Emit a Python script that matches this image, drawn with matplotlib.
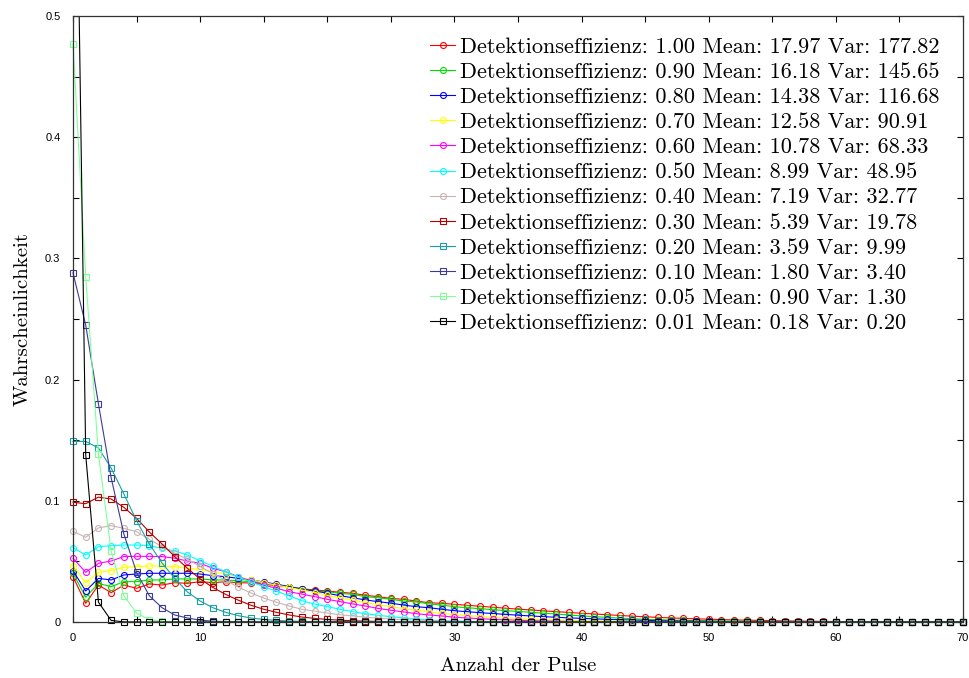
import matplotlib
matplotlib.use('Agg')
import matplotlib.pyplot as plt
from matplotlib.ticker import MultipleLocator
from matplotlib.transforms import Bbox, TransformedBbox

# Anzahl der Pulse 0..70
pulses = list(range(71))

effs = ['1.00', '0.90', '0.80', '0.70', '0.60', '0.50', '0.40', '0.30', '0.20', '0.10', '0.05', '0.01']
means = ['17.97', '16.18', '14.38', '12.58', '10.78', '8.99', '7.19', '5.39', '3.59', '1.80', '0.90', '0.18']
variances = ['177.82', '145.65', '116.68', '90.91', '68.33', '48.95', '32.77', '19.78', '9.99', '3.40', '1.30', '0.20']

p100 = [0.0374, 0.0154, 0.0305, 0.0242, 0.0305, 0.0278, 0.0314, 0.0305, 0.0324, 0.0319,
        0.0333, 0.0324, 0.0333, 0.0324, 0.0322, 0.0312, 0.0300, 0.0290, 0.0275, 0.0264,
        0.0256, 0.0245, 0.0237, 0.0220, 0.0209, 0.0195, 0.0187, 0.0173, 0.0159, 0.0154,
        0.0146, 0.0138, 0.0130, 0.0122, 0.0114, 0.0106, 0.0099, 0.0092, 0.0085, 0.0079,
        0.0072, 0.0066, 0.0060, 0.0054, 0.0048, 0.0043, 0.0038, 0.0034, 0.0030, 0.0026,
        0.0023, 0.0020, 0.0017, 0.0015, 0.0013, 0.0011, 0.0009, 0.0008, 0.0006, 0.0005,
        0.0004, 0.0003, 0.0003, 0.0002, 0.0002, 0.0001, 0.0001, 0.0001, 0.0001, 0, 0]
p090 = [0.0402, 0.0204, 0.0319, 0.0291, 0.0333, 0.0333, 0.0347, 0.0347, 0.0355, 0.0355,
        0.0355, 0.0347, 0.0347, 0.0340, 0.0333, 0.0320, 0.0308, 0.0292, 0.0275, 0.0256,
        0.0250, 0.0237, 0.0228, 0.0209, 0.0200, 0.0187, 0.0173, 0.0165, 0.0149, 0.0140,
        0.0126, 0.0118, 0.0110, 0.0102, 0.0094, 0.0087, 0.0080, 0.0073, 0.0066, 0.0058,
        0.0050, 0.0044, 0.0038, 0.0032, 0.0027, 0.0022, 0.0019, 0.0016, 0.0014, 0.0012,
        0.0010, 0.0008, 0.0007, 0.0006, 0.0005, 0.0004, 0.0003, 0.0003, 0.0002, 0.0002,
        0.0001, 0.0001, 0.0001, 0, 0, 0, 0, 0, 0, 0, 0]
p080 = [0.0424, 0.0256, 0.0360, 0.0347, 0.0388, 0.0396, 0.0402, 0.0402, 0.0402, 0.0402,
        0.0396, 0.0382, 0.0374, 0.0360, 0.0347, 0.0330, 0.0312, 0.0292, 0.0270, 0.0256,
        0.0237, 0.0217, 0.0200, 0.0182, 0.0168, 0.0155, 0.0140, 0.0126, 0.0118, 0.0105,
        0.0093, 0.0085, 0.0077, 0.0070, 0.0063, 0.0056, 0.0050, 0.0044, 0.0039, 0.0034,
        0.0030, 0.0026, 0.0022, 0.0019, 0.0016, 0.0013, 0.0011, 0.0009, 0.0008, 0.0006,
        0.0005, 0.0004, 0.0003, 0.0003, 0.0002, 0.0002, 0.0001, 0.0001, 0, 0,
        0, 0, 0, 0, 0, 0, 0, 0, 0, 0, 0]
p070 = [0.0465, 0.0325, 0.0410, 0.0424, 0.0451, 0.0456, 0.0462, 0.0462, 0.0456, 0.0443,
        0.0435, 0.0415, 0.0396, 0.0374, 0.0350, 0.0325, 0.0305, 0.0285, 0.0264, 0.0242,
        0.0220, 0.0200, 0.0182, 0.0159, 0.0143, 0.0126, 0.0110, 0.0097, 0.0083, 0.0072,
        0.0060, 0.0052, 0.0045, 0.0039, 0.0033, 0.0028, 0.0024, 0.0020, 0.0017, 0.0014,
        0.0012, 0.0010, 0.0008, 0.0007, 0.0005, 0.0004, 0.0003, 0.0003, 0.0002, 0.0002,
        0.0001, 0.0001, 0, 0, 0, 0, 0, 0, 0, 0,
        0, 0, 0, 0, 0, 0, 0, 0, 0, 0, 0]
p060 = [0.0526, 0.0410, 0.0484, 0.0503, 0.0540, 0.0542, 0.0542, 0.0540, 0.0526, 0.0503,
        0.0484, 0.0443, 0.0415, 0.0374, 0.0338, 0.0305, 0.0278, 0.0250, 0.0230, 0.0209,
        0.0187, 0.0168, 0.0149, 0.0132, 0.0112, 0.0097, 0.0083, 0.0069, 0.0058, 0.0050,
        0.0040, 0.0033, 0.0027, 0.0022, 0.0018, 0.0014, 0.0011, 0.0009, 0.0007, 0.0005,
        0.0004, 0.0003, 0.0002, 0.0002, 0.0001, 0.0001, 0, 0, 0, 0,
        0, 0, 0, 0, 0, 0, 0, 0, 0, 0,
        0, 0, 0, 0, 0, 0, 0, 0, 0, 0, 0]
p050 = [0.0613, 0.0553, 0.0621, 0.0630, 0.0635, 0.0635, 0.0630, 0.0608, 0.0586, 0.0553,
        0.0505, 0.0460, 0.0415, 0.0370, 0.0330, 0.0292, 0.0255, 0.0215, 0.0176, 0.0148,
        0.0127, 0.0105, 0.0085, 0.0069, 0.0055, 0.0044, 0.0033, 0.0025, 0.0017, 0.0011,
        0.0008, 0.0006, 0.0004, 0.0003, 0.0002, 0.0001, 0.0001, 0, 0, 0,
        0, 0, 0, 0, 0, 0, 0, 0, 0, 0,
        0, 0, 0, 0, 0, 0, 0, 0, 0, 0,
        0, 0, 0, 0, 0, 0, 0, 0, 0, 0, 0]
p040 = [0.0748, 0.0699, 0.0776, 0.0795, 0.0773, 0.0745, 0.0682, 0.0621, 0.0569, 0.0517,
        0.0459, 0.0399, 0.0343, 0.0288, 0.0239, 0.0198, 0.0163, 0.0132, 0.0105, 0.0090,
        0.0074, 0.0060, 0.0050, 0.0040, 0.0031, 0.0025, 0.0020, 0.0015, 0.0011, 0.0008,
        0.0006, 0.0004, 0.0003, 0.0002, 0.0001, 0, 0, 0, 0, 0,
        0, 0, 0, 0, 0, 0, 0, 0, 0, 0,
        0, 0, 0, 0, 0, 0, 0, 0, 0, 0,
        0, 0, 0, 0, 0, 0, 0, 0, 0, 0, 0]
p030 = [0.0988, 0.0976, 0.1030, 0.1015, 0.0946, 0.0855, 0.0743, 0.0644, 0.0540, 0.0443,
        0.0355, 0.0285, 0.0228, 0.0180, 0.0138, 0.0105, 0.0080, 0.0058, 0.0041, 0.0030,
        0.0021, 0.0015, 0.0010, 0.0007, 0.0005, 0.0003, 0.0002, 0.0001, 0, 0,
        0, 0, 0, 0, 0, 0, 0, 0, 0, 0,
        0, 0, 0, 0, 0, 0, 0, 0, 0, 0,
        0, 0, 0, 0, 0, 0, 0, 0, 0, 0,
        0, 0, 0, 0, 0, 0, 0, 0, 0, 0, 0]
p020 = [0.1490, 0.1490, 0.1436, 0.1270, 0.1056, 0.0836, 0.0644, 0.0487, 0.0360, 0.0248,
        0.0173, 0.0118, 0.0080, 0.0052, 0.0033, 0.0021, 0.0013, 0.0008, 0.0005, 0.0003,
        0.0002, 0.0001, 0, 0, 0, 0, 0, 0, 0, 0,
        0, 0, 0, 0, 0, 0, 0, 0, 0, 0,
        0, 0, 0, 0, 0, 0, 0, 0, 0, 0,
        0, 0, 0, 0, 0, 0, 0, 0, 0, 0,
        0, 0, 0, 0, 0, 0, 0, 0, 0, 0, 0]
p010 = [0.2880, 0.2450, 0.1800, 0.1190, 0.0726, 0.0410, 0.0217, 0.0118, 0.0058, 0.0033,
        0.0015, 0.0007, 0.0003, 0.0002, 0.0001, 0, 0, 0, 0, 0,
        0, 0, 0, 0, 0, 0, 0, 0, 0, 0,
        0, 0, 0, 0, 0, 0, 0, 0, 0, 0,
        0, 0, 0, 0, 0, 0, 0, 0, 0, 0,
        0, 0, 0, 0, 0, 0, 0, 0, 0, 0,
        0, 0, 0, 0, 0, 0, 0, 0, 0, 0, 0]
p005 = [0.4770, 0.2850, 0.1385, 0.0586, 0.0217, 0.0073, 0.0020, 0.0006, 0.0002, 0.0001,
        0, 0, 0, 0, 0, 0, 0, 0, 0, 0,
        0, 0, 0, 0, 0, 0, 0, 0, 0, 0,
        0, 0, 0, 0, 0, 0, 0, 0, 0, 0,
        0, 0, 0, 0, 0, 0, 0, 0, 0, 0,
        0, 0, 0, 0, 0, 0, 0, 0, 0, 0,
        0, 0, 0, 0, 0, 0, 0, 0, 0, 0, 0]
p001 = [0.8440, 0.1380, 0.0164, 0.0013, 0.0001, 0, 0, 0, 0, 0,
        0, 0, 0, 0, 0, 0, 0, 0, 0, 0,
        0, 0, 0, 0, 0, 0, 0, 0, 0, 0,
        0, 0, 0, 0, 0, 0, 0, 0, 0, 0,
        0, 0, 0, 0, 0, 0, 0, 0, 0, 0,
        0, 0, 0, 0, 0, 0, 0, 0, 0, 0,
        0, 0, 0, 0, 0, 0, 0, 0, 0, 0, 0]

series = [p100, p090, p080, p070, p060, p050, p040, p030, p020, p010, p005, p001]
colors = ['#ff0000', '#00dd00', '#0000ff', '#ffff00', '#ff00ff', '#00ffff',
          '#c8b4b4', '#b40000', '#1aa0a0', '#3c3c96', '#80ff99', '#000000']
markers = ['o'] * 7 + ['s'] * 5

fig = plt.figure(figsize=(9.7, 6.78), dpi=100)
ax = fig.add_axes([73 / 970, 1 - 622 / 678, 890 / 970, 606 / 678])

# etwas groesserer Clip-Bereich, damit Punkte auf dem Rand ganz sichtbar sind
clip = TransformedBbox(Bbox([[-0.012, -0.015], [1.012, 1.0]]), ax.transAxes)
for vals, c, m, e, mu, v in zip(series, colors, markers, effs, means, variances):
    ln, = ax.plot(pulses, vals, color=c, marker=m, ms=4.3, mfc='none', mew=0.8, lw=0.8,
                  label='Detektionseffizienz: %s Mean: %s Var: %s' % (e, mu, v))
    ln.set_clip_box(clip)

ax.set_xlim(0, 70)
ax.set_ylim(0, 0.5)
ax.xaxis.set_major_locator(MultipleLocator(10))
ax.xaxis.set_minor_locator(MultipleLocator(5))
ax.yaxis.set_major_locator(MultipleLocator(0.1))
ax.yaxis.set_minor_locator(MultipleLocator(0.05))
ax.xaxis.set_major_formatter(plt.FuncFormatter(lambda v, p: '%g' % v))
ax.yaxis.set_major_formatter(plt.FuncFormatter(lambda v, p: '%g' % v))
ax.tick_params(which='both', direction='in', top=True, right=True, length=4, width=0.8,
               labelsize=8)
ax.tick_params(axis='x', pad=8)
ax.tick_params(axis='y', pad=9)
for lab in ax.get_xticklabels() + ax.get_yticklabels():
    lab.set_family('Liberation Sans')
for s in ax.spines.values():
    s.set_linewidth(0.9)
    s.set_color('#333333')

ax.set_xlabel('Anzahl der Pulse', family='cmr10', fontsize=15)
ax.set_ylabel('Wahrscheinlichkeit', family='cmr10', fontsize=15)
ax.xaxis.set_label_coords(0.5, -0.058)
ax.yaxis.set_label_coords(-0.047, 0.5)

ax.legend(loc='upper right', bbox_to_anchor=(0.974, 0.965), frameon=False,
          prop={'family': 'cmr10', 'size': 16}, handlelength=1.1, handletextpad=0.25,
          labelspacing=0.25, borderaxespad=0, borderpad=0)

fig.savefig('out.png', dpi=100)
